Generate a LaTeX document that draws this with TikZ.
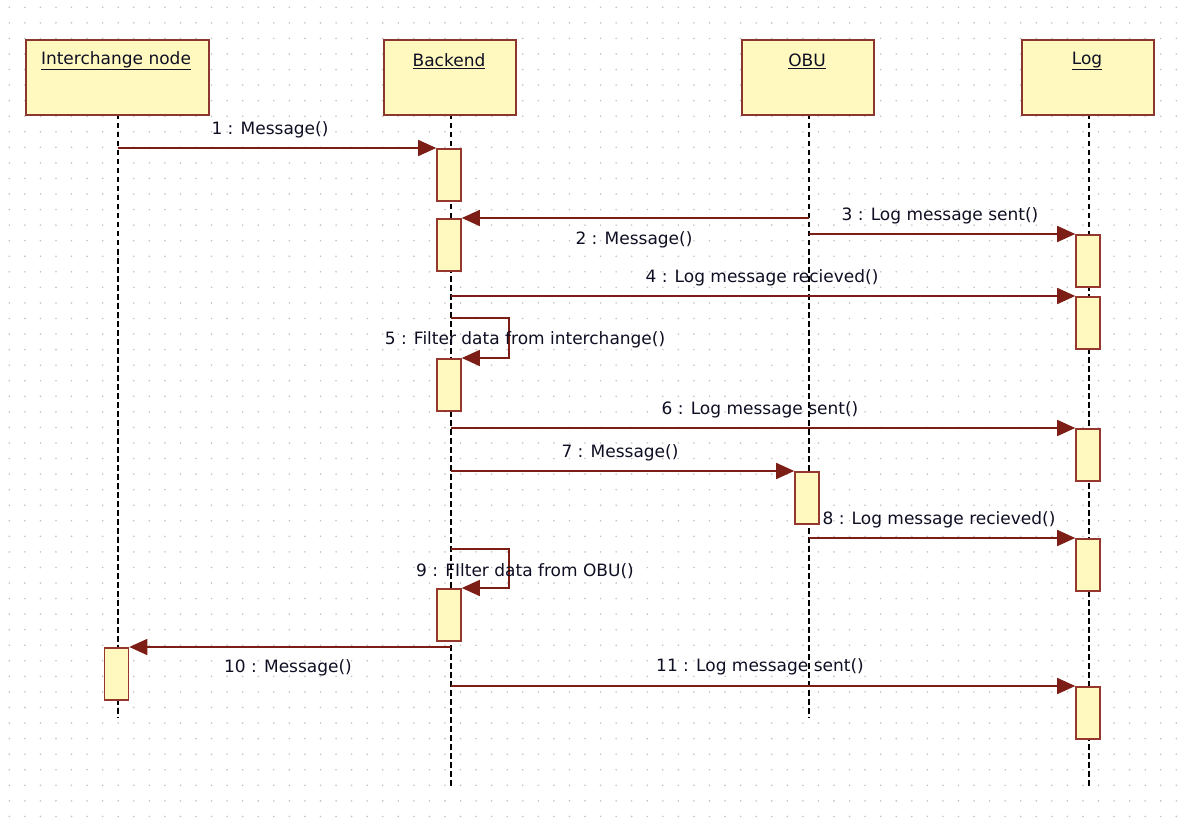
\documentclass[tikz,border=0pt]{standalone}
\usepackage{fontspec}
\setmainfont{DejaVu Sans}
\usetikzlibrary{arrows.meta}
\definecolor{msgc}{RGB}{125,30,22}
\definecolor{actb}{RGB}{150,55,45}
\definecolor{actf}{RGB}{255,249,192}
\definecolor{hdrb}{RGB}{140,55,45}
\definecolor{txt}{RGB}{15,15,35}
\definecolor{dotc}{RGB}{195,195,195}
\tikzset{
  hdr/.style={draw=hdrb,line width=2pt,fill=actf,minimum height=75pt,anchor=north west,inner sep=0pt},
  htext/.style={font=\fontsize{17}{20}\selectfont,text=txt,inner sep=0pt},
  act/.style={draw=actb,line width=1.6pt,fill=actf,minimum width=24pt,minimum height=52pt,anchor=north,inner sep=0pt},
  life/.style={black,line width=2pt,dash pattern=on 5.5pt off 3.5pt},
  msg/.style={msgc,line width=1.6pt,-{Triangle[length=18pt,width=16pt]}},
  lbl/.style={font=\fontsize{17}{20}\selectfont,text=txt,inner sep=0pt}
}
\begin{document}
\begin{tikzpicture}[x=1pt,y=-1pt]
\useasboundingbox (0,0) rectangle (1190,818);
\fill[white] (0,0) rectangle (1190,818);
% grid dots
\foreach \i in {0,...,76}{
  \foreach \j in {0,...,52}{
    \fill[dotc] ({9.3+15.56*\i},{7.3+15.56*\j}) circle (0.9pt);
  }
}
% lifelines
\coordinate (lI0) at (118,114); \coordinate (lI1) at (118,718);
\coordinate (lB0) at (451,114); \coordinate (lB1) at (451,788);
\coordinate (lO0) at (809,114); \coordinate (lO1) at (809,718);
\coordinate (lL0) at (1089,114); \coordinate (lL1) at (1089,786);
\draw[life] (lI0) -- (lI1);
\draw[life] (lB0) -- (lB1);
\draw[life] (lO0) -- (lO1);
\draw[life] (lL0) -- (lL1);
% headers
\node[hdr,minimum width=183pt] (hI) at (25,39) {};
\node[hdr,minimum width=132pt] (hB) at (383,39) {};
\node[hdr,minimum width=132pt] (hO) at (741,39) {};
\node[hdr,minimum width=132pt] (hL) at (1021,39) {};
\node[htext] (tI) at (116,61) {\underline{Interchange node}};
\node[htext] (tB) at (449,61) {\underline{Backend}};
\node[htext] (tO) at (807,61) {\underline{OBU}};
\node[htext] (tL) at (1087,61) {\underline{Log}};
% activations
\node[act] (a1) at (449,148) {};
\node[act] (a2) at (449,218) {};
\node[act] (a5) at (449,358) {};
\node[act] (a9) at (449,588) {};
\node[act] (aI) at (116.5,647) {};
\node[act] (aO) at (807,471) {};
\node[act] (L3) at (1088,234) {};
\node[act] (L4) at (1088,296) {};
\node[act] (L6) at (1088,428) {};
\node[act] (L8) at (1088,538) {};
\node[act] (L11) at (1088,686) {};
% message start points
\coordinate (s1) at (118,148);
\coordinate (s2) at (809,218);
\coordinate (s3) at (809,234);
\coordinate (s4) at (451,296);
\coordinate (s5) at (451,318);
\coordinate (s6) at (451,428);
\coordinate (s7) at (451,471);
\coordinate (s8) at (809,538);
\coordinate (s9) at (451,549);
\coordinate (s10) at (451,647);
\coordinate (s11) at (451,686);
% messages
\draw[msg] (s1) -- (a1.north west);
\draw[msg] (s2) -- (a2.north east);
\draw[msg] (s3) -- (L3.north west);
\draw[msg] (s4) -- (L4.north west);
\draw[msg] (s5) -- ++(58,0) |- (a5.north east);
\draw[msg] (s6) -- (L6.north west);
\draw[msg] (s7) -- (aO.north west);
\draw[msg] (s8) -- (L8.north west);
\draw[msg] (s9) -- ++(58,0) |- (a9.north east);
\draw[msg] (s10) -- (aI.north east);
\draw[msg] (s11) -- (L11.north west);
% labels
\node[lbl] (m1) at (270,130) {1 : Message()};
\node[lbl] (m2) at (634,240) {2 : Message()};
\node[lbl] (m3) at (940,216) {3 : Log message sent()};
\node[lbl] (m4) at (762,278) {4 : Log message recieved()};
\node[lbl] (m5) at (525,340) {5 : Filter data from interchange()};
\node[lbl] (m6) at (760,410) {6 : Log message sent()};
\node[lbl] (m7) at (620,453) {7 : Message()};
\node[lbl] (m8) at (939,520) {8 : Log message recieved()};
\node[lbl] (m9) at (525,571) {9 : FIlter data from OBU()};
\node[lbl] (m10) at (288,668) {10 : Message()};
\node[lbl] (m11) at (760,667) {11 : Log message sent()};
\end{tikzpicture}
\end{document}
